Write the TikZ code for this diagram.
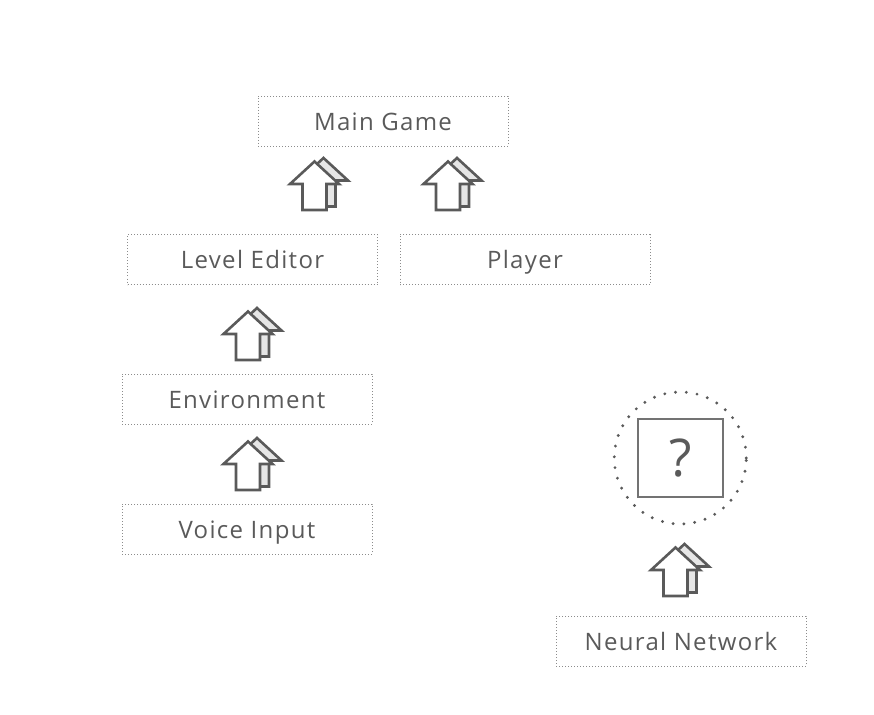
\documentclass[tikz,border=0pt]{standalone}
\usepackage{fontspec}
\setmainfont[LetterSpace=5.5]{Open Sans}

\definecolor{inkgray}{HTML}{5A5A5A}
\definecolor{dotgray}{HTML}{8C8C8C}
\definecolor{shadegray}{HTML}{E6E6E6}

\tikzset{
  module/.style={draw=dotgray, line width=0.9pt, dash pattern=on 0.9pt off 2.1pt,
    minimum width=250pt, minimum height=50pt, inner sep=0pt,
    text=inkgray, font=\fontsize{24}{24}\selectfont, text height=18.5pt, text depth=0pt},
  iconline/.style={draw=inkgray, line width=2.6pt},
}

% up arrow icon with its shaded copy, (#1,#2) = bottom middle of the shaft
\newcommand{\iconpath}{(-12,0) -- (-12,-26) -- (-24.5,-26) -- (0,-48.5) -- (24.5,-26) -- (12,-26) -- (12,0) -- cycle}
\newcommand{\upicon}[2]{%
  \begin{scope}[shift={(#1,#2)}]
    \draw [iconline, fill=shadegray, shift={(9,-3.5)}] \iconpath;
    \draw [iconline, fill=white] \iconpath;
  \end{scope}}

\begin{document}
\begin{tikzpicture}[x=1pt, y=-1pt]
  \useasboundingbox (0,0) rectangle (874,714);
  \node [module] (maingame) at (383,121) {Main Game};
  \node [module] (leveleditor) at (252.5,259.5) {Level Editor};
  \node [module] (player) at (525,259.5) {Player};
  \node [module] (environment) at (247,399) {Environment};
  \node [module] (voiceinput) at (247,529) {Voice Input};
  \node [module] (neuralnet) at (681,641) {Neural Network};
  % unknown block
  \node [draw=inkgray, line width=3.2pt, line cap=round, dash pattern=on 0pt off 10.85pt,
    circle, minimum size=132pt, inner sep=0pt] (unknown) at (680.3,458) {};
  \node [draw=inkgray!85, line width=1.5pt, minimum width=85pt, minimum height=78pt,
    inner sep=0pt, text=inkgray, font=\fontsize{52}{52}\selectfont] (question) at (unknown.center) {?};
  % arrows
  \upicon{314.5}{210}
  \upicon{448}{210}
  \upicon{248}{360}
  \upicon{248}{490}
  \upicon{675.5}{596}
\end{tikzpicture}
\end{document}
